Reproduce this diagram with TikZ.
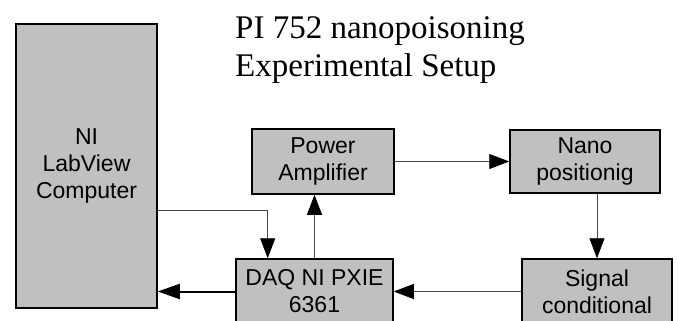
\documentclass[tikz,border=0pt]{standalone}
\usepackage{fontspec}
\setmainfont{Liberation Serif}
\setsansfont{Liberation Sans}
\usetikzlibrary{arrows.meta,positioning}
\definecolor{boxgray}{RGB}{192,192,192}
\definecolor{wire}{RGB}{70,70,70}

\begin{document}
\begin{tikzpicture}[x=1pt,y=-1pt,
  every node/.style={font=\sffamily\fontsize{23}{27}\selectfont},
  block/.style={draw=black,line width=1.5pt,fill=boxgray,align=center,inner sep=0pt},
  link/.style={-{Triangle[length=20pt,width=15pt,color=black]},draw=wire,line width=0.8pt},
  heavylink/.style={-{Triangle[length=22pt,width=15pt]},draw=black,line width=2pt}]
\useasboundingbox (0,0) rectangle (678,321);
\clip (0,0) rectangle (678,321);
\node[block,minimum width=141pt,minimum height=284pt] (comp) at (86.5,166)
  {NI\\LabView\\Computer};
\node[block,minimum width=142pt,minimum height=65pt] (amp) at (323,161.5)
  {Power\\Amplifier};
\node[block,minimum width=150pt,minimum height=63pt] (nano) at (585,161.5)
  {Nano\\positionig};
\node[block,minimum width=157pt,minimum height=65pt] (daq) at (314.5,291.5)
  {DAQ NI PXIE\\6361};
\node[block,minimum width=150pt,minimum height=65pt] (sig) at (597,291.5)
  {Signal\\conditional};
\node[font=\rmfamily\fontsize{33}{38}\selectfont,align=left,anchor=north west,
  inner sep=0pt] (title) at (235,16) {PI 752 nanopoisoning\\Experimental Setup};
\draw[link] ([yshift=-44.7pt]comp.east) -| ([xshift=-46.8pt]daq.north);
\draw[link] (daq.north) -- (daq.north |- amp.south);
\draw[link] (amp) -- (nano);
\draw[link] (nano.south -| sig.north) -- (sig.north);
\draw[link] (sig) -- (daq);
\draw[heavylink] (daq.west) -- (daq.west -| comp.east);
\end{tikzpicture}
\end{document}
